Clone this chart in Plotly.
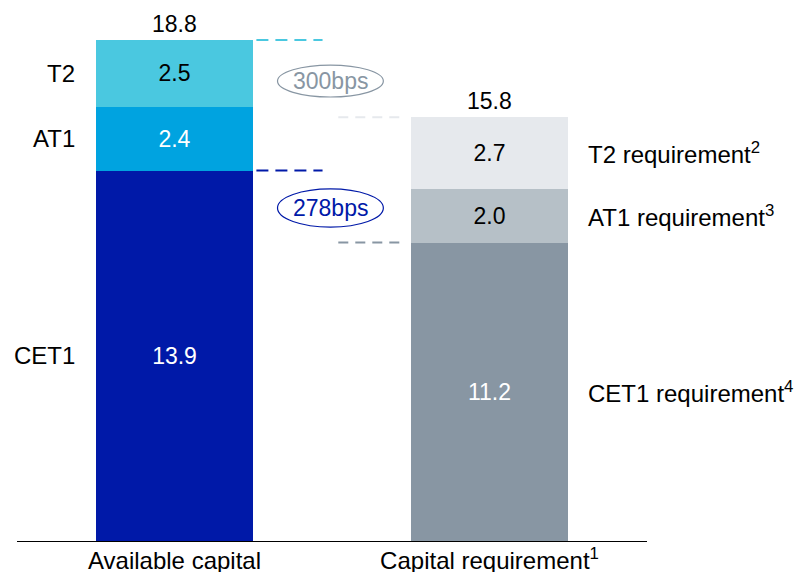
import plotly.graph_objects as go

categories = ["Available capital", "Capital requirement<sup>1</sup>"]
cet1 = [13.9, 11.2]
at1 = [2.4, 2.0]
t2 = [2.5, 2.7]
totals = [18.8, 15.8]
left_labels = ["CET1", "AT1", "T2"]
right_labels = ["CET1 requirement<sup>4</sup>", "AT1 requirement<sup>3</sup>", "T2 requirement<sup>2</sup>"]
bps_labels = ["300bps", "278bps"]

FONT = "Liberation Sans"
FS = 24   # words
FN = 23   # numbers

x = [0, 1]
fig = go.Figure()
series = [
    (cet1, ["#0019a8", "#8896a3"], ["white", "white"]),
    (at1, ["#00a3e0", "#b6c0c7"], ["white", "black"]),
    (t2, ["#4ac8e0", "#e6e9ed"], ["black", "black"]),
]
for vals, cols, tcols in series:
    fig.add_trace(go.Bar(
        x=x, y=vals, marker=dict(color=cols, line=dict(width=0)),
        text=[f"{v:.1f}" for v in vals], textposition="inside",
        insidetextanchor="middle", textangle=0,
        textfont=dict(color=tcols, size=FN, family=FONT),
        width=0.5, hoverinfo="skip",
    ))

stack_tops = [c + a + t for c, a, t in zip(cet1, at1, t2)]
for xi, tot in zip(x, totals):
    fig.add_annotation(x=xi, y=stack_tops[xi], text=f"{tot:.1f}",
                       yanchor="bottom", showarrow=False, yshift=1,
                       font=dict(size=FN, color="black", family=FONT))

bases = [0, cet1[0], cet1[0] + at1[0]]
for lab, b, h in zip(left_labels, bases, [cet1[0], at1[0], t2[0]]):
    fig.add_annotation(x=-0.31, y=b + h / 2, text=lab, xanchor="right", showarrow=False,
                       font=dict(size=FS, color="black", family=FONT))

bases2 = [0, cet1[1], cet1[1] + at1[1]]
for lab, b, h in zip(right_labels, bases2, [cet1[1], at1[1], t2[1]]):
    fig.add_annotation(x=1.305, y=b + h / 2, text=lab, xanchor="left", showarrow=False,
                       font=dict(size=FS, color="black", family=FONT))

dash_specs = [
    (0.26, 0.47, stack_tops[0], "#4ac8e0", "12px,7px"),
    (0.26, 0.47, cet1[0], "#0019a8", "12px,7px"),
    (0.52, 0.735, stack_tops[1], "#e6e9ed", "10px,7px"),
    (0.52, 0.735, cet1[1], "#8896a3", "10px,7px"),
]
for x0, x1, yv, col, d in dash_specs:
    fig.add_shape(type="line", x0=x0, x1=x1, y0=yv, y1=yv, xref="x", yref="y",
                  line=dict(color=col, width=2, dash=d))

ell = [
    (bps_labels[0], 16.66, 17.86, "#8896a3"),
    (bps_labels[1], 11.78, 13.21, "#0019a8"),
]
for lab, y0, y1, col in ell:
    fig.add_shape(type="circle", x0=0.327, x1=0.663, y0=y0, y1=y1, xref="x", yref="y",
                  line=dict(color=col, width=1.2))
    fig.add_annotation(x=0.495, y=(y0 + y1) / 2, text=lab, showarrow=False,
                       font=dict(size=FN, color=col, family=FONT))

fig.update_layout(
    barmode="stack", showlegend=False,
    width=800, height=572,
    margin=dict(l=17, r=153, t=8, b=31),
    plot_bgcolor="white", paper_bgcolor="white",
    font=dict(family=FONT, size=FS, color="black"),
    xaxis=dict(range=[-0.5, 1.5], tickvals=x, ticktext=categories, showline=True,
               linecolor="black", linewidth=1, showgrid=False, zeroline=False, ticks="",
               automargin=False, ticklabelstandoff=-2,
               tickfont=dict(size=FS, family=FONT, color="black")),
    yaxis=dict(range=[0, 20], visible=False, showgrid=False, zeroline=False, automargin=False),
    uniformtext=dict(mode=False),
)
fig.write_html("out.html")
